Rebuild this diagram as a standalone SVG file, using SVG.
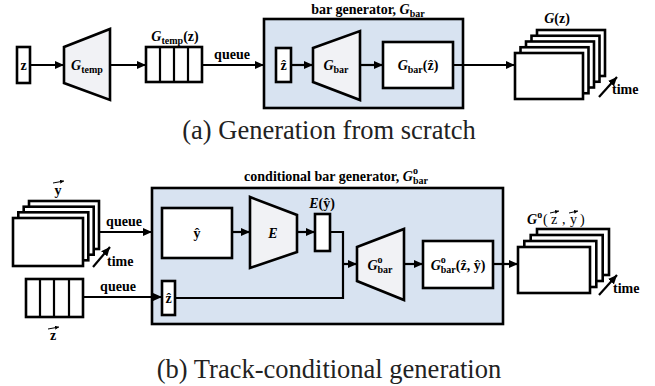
<svg xmlns="http://www.w3.org/2000/svg" width="655" height="386" viewBox="0 0 655 386" font-family="'Liberation Serif', 'Times New Roman', serif">
<defs>
<marker id="ah" markerUnits="userSpaceOnUse" markerWidth="9" markerHeight="8" refX="9" refY="4" orient="auto"><path d="M0,0 L9,4 L0,8 z" fill="#000"/></marker>
<marker id="ah2" markerUnits="userSpaceOnUse" markerWidth="4" markerHeight="4" refX="4" refY="2" orient="auto"><path d="M0,0 L4,2 L0,4 z" fill="#000"/></marker>
<style>
.box{fill:#fff;stroke:#000;stroke-width:2.6}
.blue{fill:#d8e3f1;stroke:#000;stroke-width:2.6}
.trap{fill:#f1f2f5;stroke:#000;stroke-width:2.6}
.ln{fill:none;stroke:#000;stroke-width:2.2}
.arr{marker-end:url(#ah)}
.acc{fill:none;stroke:#000;stroke-width:1;marker-end:url(#ah2)}
text{font-weight:bold;font-size:14px;fill:#000}
.c{text-anchor:middle}
.i{font-style:italic}
.s{font-size:10px}
.cap{font-weight:normal;font-size:26.5px;fill:#222}
.n{font-weight:normal}
</style>
</defs>
<rect width="655" height="386" fill="#fff"/>

<!-- (a) -->
<g id="blue-a"><rect class="blue" x="264" y="19" width="199" height="89"/>
<text class="c" x="368" y="14">bar generator, <tspan class="i">G</tspan><tspan class="s" dy="3">bar</tspan></text></g>
<g id="z-a"><rect class="box" x="17" y="47" width="13" height="36"/><text class="c" x="23.5" y="70">z</text></g>
<g id="gtemp"><polygon class="trap" points="64,47 110,29 110,100 64,83"/><text class="c" x="87" y="70"><tspan class="i">G</tspan><tspan class="s" dy="3">temp</tspan></text></g>
<g id="queue-a"><rect class="box" x="146" y="47" width="56" height="35"/><path class="ln" d="M160,47V82M174,47V82M188,47V82" stroke-width="2.5"/>
<text class="c" x="175" y="41"><tspan class="i">G</tspan><tspan class="s" dy="3">temp</tspan><tspan dy="-3">(z)</tspan></text></g>
<g id="zhat-a"><rect class="box" x="276" y="48" width="15" height="34"/><text class="c" x="283.5" y="70">ẑ</text></g>
<g id="gbar"><polygon class="trap" points="313,48 360,31 360,100 313,82"/><text class="c" x="336" y="70"><tspan class="i">G</tspan><tspan class="s" dy="3">bar</tspan></text></g>
<g id="gbarz"><rect class="box" x="383" y="42" width="70" height="46"/><text class="c" x="418" y="70"><tspan class="i">G</tspan><tspan class="s" dy="3">bar</tspan><tspan dy="-3">(ẑ)</tspan></text></g>
<g id="frames-a">
<rect class="box" x="537" y="30" width="68" height="46"/>
<rect class="box" x="531.5" y="35.75" width="68" height="46"/>
<rect class="box" x="526" y="41.5" width="68" height="46"/>
<rect class="box" x="520.5" y="47.25" width="68" height="46"/>
<rect class="box" x="515" y="53" width="68" height="46"/>
<line class="ln arr" x1="599" y1="97" x2="617" y2="77" stroke-width="2.5"/>
<text x="612" y="94">time</text>
<text class="c" x="557" y="23"><tspan class="i">G</tspan>(z)</text></g>

<g id="connectors-a">
<line class="ln arr" x1="30" y1="65" x2="64" y2="65"/>
<line class="ln arr" x1="110" y1="65" x2="146" y2="65"/>
<line class="ln arr" x1="202" y1="65" x2="264" y2="65"/>
<text class="c" x="232" y="59">queue</text>
<line class="ln arr" x1="291" y1="65" x2="313" y2="65"/>
<line class="ln arr" x1="360" y1="65" x2="383" y2="65"/>
<line class="ln arr" x1="453" y1="65" x2="515" y2="65"/>
</g>
<text class="cap c" x="329" y="139">(a) Generation from scratch</text>

<!-- (b) -->
<g id="blue-b"><rect class="blue" x="152" y="188" width="351" height="136"/>
<text class="c" x="336" y="181">conditional bar generator, <tspan class="i">G</tspan><tspan class="s" dy="-7">o</tspan><tspan class="s" dx="-5" dy="10">bar</tspan></text></g>
<g id="frames-y">
<rect class="box" x="29" y="201" width="70" height="48"/>
<rect class="box" x="23.7" y="206.7" width="70" height="48"/>
<rect class="box" x="18.3" y="212.3" width="70" height="48"/>
<rect class="box" x="13" y="218" width="70" height="48"/>
<line class="ln arr" x1="93" y1="267" x2="110" y2="247" stroke-width="2.5"/>
<text x="107" y="266">time</text>
<text class="c" x="58" y="195">y</text>
<line class="acc" x1="53" y1="183" x2="64" y2="181"/></g>
<g id="queue-b"><rect class="box" x="26" y="279" width="57" height="38"/><path class="ln" d="M40,279V317M54,279V317M69,279V317" stroke-width="2.5"/>
<text class="c" x="53" y="340">z</text>
<line class="acc" x1="48" y1="329" x2="59" y2="327"/></g>
<g id="yhat"><rect class="box" x="162" y="208" width="70" height="50"/><text class="c" x="197" y="238">ŷ</text></g>
<g id="enc"><polygon class="trap" points="250,197 297,215 297,252 250,268"/><text class="c i" x="273" y="238">E</text></g>
<g id="ey"><rect class="box" x="315" y="214" width="15" height="37"/><text class="c" x="322" y="208"><tspan class="i">E</tspan>(ŷ)</text></g>
<g id="zhat-b"><rect class="box" x="162" y="281" width="13" height="34"/><text class="c" x="168.5" y="303">ẑ</text></g>
<g id="gcbar"><polygon class="trap" points="357,247 404,229 404,300 357,281"/><text class="c" x="380" y="270"><tspan class="i">G</tspan><tspan class="s" dy="-7">o</tspan><tspan class="s" dx="-5" dy="10">bar</tspan></text></g>
<g id="gcbarz"><rect class="box" x="423" y="241" width="70" height="47"/><text class="c" x="458" y="270"><tspan class="i">G</tspan><tspan class="s" dy="-7">o</tspan><tspan class="s" dx="-5" dy="10">bar</tspan><tspan dy="-3">(ẑ, ŷ)</tspan></text></g>
<g id="frames-b">
<rect class="box" x="537" y="229" width="72" height="46"/>
<rect class="box" x="530.7" y="235" width="72" height="46"/>
<rect class="box" x="524.3" y="241" width="72" height="46"/>
<rect class="box" x="518" y="247" width="72" height="46"/>
<line class="ln arr" x1="599" y1="295" x2="617" y2="275" stroke-width="2.5"/>
<text x="613" y="293">time</text>
<text x="527" y="224"><tspan class="i">G</tspan><tspan class="s" dy="-6">o</tspan><tspan class="n" x="543" dy="6">(</tspan><tspan class="n" x="551">z</tspan><tspan class="n" x="562">,</tspan><tspan class="n" x="570">y</tspan><tspan class="n" x="580">)</tspan></text>
<line class="acc" x1="550" y1="213" x2="559" y2="211"/>
<line class="acc" x1="569" y1="213" x2="578" y2="211"/></g>

<g id="connectors-b">
<line class="ln arr" x1="99" y1="232" x2="152" y2="232"/>
<text class="c" x="124" y="226">queue</text>
<line class="ln arr" x1="83" y1="297" x2="162" y2="297"/>
<text class="c" x="118" y="291">queue</text>
<line class="ln arr" x1="232" y1="232" x2="250" y2="232"/>
<line class="ln arr" x1="297" y1="232" x2="315" y2="232"/>
<path class="ln" d="M330,232H343V298H175"/>
<line class="ln arr" x1="343" y1="264" x2="357" y2="264"/>
<line class="ln arr" x1="404" y1="264" x2="423" y2="264"/>
<line class="ln arr" x1="493" y1="264" x2="518" y2="264"/>
</g>
<text class="cap c" x="329" y="378">(b) Track-conditional generation</text>
</svg>
